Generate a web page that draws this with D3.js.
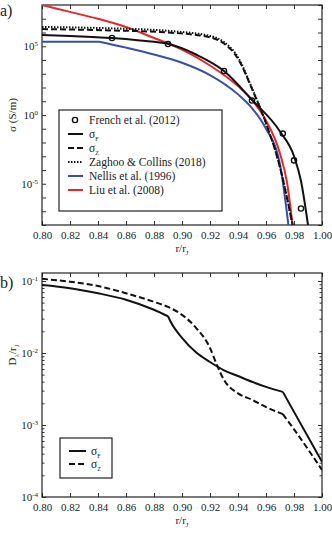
<!DOCTYPE html>
<html lang="en">
<head>
  <meta charset="UTF-8">
  <title>Conductivity and magnetic diffusion length</title>
  <script src="https://d3js.org/d3.v7.min.js"></script>
  <style>
    body { margin: 0; background: #fff; }
    svg text { font-family: "Liberation Serif", "Times New Roman", serif; }
  </style>
</head>
<body>
  <svg width="332" height="536"></svg>

  <script>
    // panel a: log10 of conductivity (S/m) vs r/rJ
    const rFrench = [0.85, 0.89, 0.93, 0.95, 0.972, 0.98, 0.985];
    const sFrench = [5.6, 5.16, 3.2, 1.05, -1.35, -3.3, -6.8];

    const rSigF = [0.80, 0.82, 0.85, 0.87, 0.89, 0.91, 0.93, 0.95, 0.97, 0.98, 0.985, 0.99];
    const sSigF = [5.82, 5.75, 5.6, 5.42, 5.18, 4.4, 3.2, 1.1, -1.2, -3.0, -4.8, -8.0];

    const rSigZ = [0.80, 0.85, 0.89, 0.92, 0.93, 0.94, 0.95, 0.96, 0.97, 0.979];
    const sSigZ = [6.25, 6.15, 6.0, 5.65, 5.2, 4.1, 1.9, -0.6, -3.8, -8.0];

    const rZaghoo = [0.80, 0.85, 0.89, 0.92, 0.93, 0.94, 0.95, 0.96, 0.97, 0.979];
    const sZaghoo = [6.4, 6.3, 6.12, 5.75, 5.3, 4.2, 1.95, -0.6, -3.8, -8.0];

    const rNellis = [0.80, 0.841, 0.86, 0.88, 0.90, 0.92, 0.94, 0.95, 0.96, 0.97, 0.976];
    const sNellis = [5.33, 5.33, 4.9, 4.4, 3.8, 2.9, 1.5, 0.5, -1.0, -3.6, -8.0];

    const rLiu = [0.80, 0.82, 0.84, 0.86, 0.88, 0.89, 0.90, 0.92, 0.94, 0.95, 0.96, 0.97, 0.975, 0.979];
    const sLiu = [8.0, 7.5, 7.0, 6.4, 5.6, 5.2, 4.75, 3.6, 2.1, 1.1, -0.4, -2.8, -4.9, -8.0];

    // panel b: log10 of D/rJ
    const rDF = [0.80, 0.82, 0.84, 0.86, 0.88, 0.89, 0.892, 0.90, 0.91, 0.92, 0.93, 0.94, 0.95, 0.96, 0.972, 1.00];
    const dDF = [-1.056, -1.10, -1.17, -1.26, -1.40, -1.49, -1.57, -1.79, -1.99, -2.125, -2.24, -2.32, -2.40, -2.47, -2.54, -3.51];

    const rDZ = [0.80, 0.82, 0.84, 0.86, 0.88, 0.89, 0.90, 0.91, 0.92, 0.925, 0.93, 0.94, 0.95, 0.96, 0.972, 0.98, 1.00];
    const dDZ = [-0.97, -1.01, -1.07, -1.17, -1.29, -1.36, -1.47, -1.65, -1.93, -2.17, -2.375, -2.56, -2.65, -2.75, -2.85, -3.06, -3.625];

    const xTicks = [0.80, 0.82, 0.84, 0.86, 0.88, 0.90, 0.92, 0.94, 0.96, 0.98, 1.00];

    const FONT = "Liberation Serif";
    const INK = "#222";
    const svg = d3.select("svg");
    const left = 42, right = 322;

    function sciLabel(sel, exp) {
      sel.text("10");
      sel.append("tspan").attr("dy", -4).attr("font-size", 7).text(exp);
    }

    function drawPanel(top, bottom, yDom, minor, labelExps, id) {
      const x = d3.scaleLinear().domain([0.8, 1.0]).range([left, right]);
      const y = d3.scaleLinear().domain(yDom).range([bottom, top]);
      const g = svg.append("g");

      g.append("clipPath").attr("id", id)
        .append("rect").attr("x", left).attr("y", top)
        .attr("width", right - left).attr("height", bottom - top);

      // x ticks bottom + top, pointing inward
      g.append("g").attr("transform", `translate(0,${bottom})`)
        .call(d3.axisBottom(x).tickValues(xTicks).tickFormat(d3.format(".2f")).tickSizeInner(-4).tickSizeOuter(0).tickPadding(6))
        .attr("font-family", FONT).attr("font-size", 11)
        .call(a => a.select(".domain").remove())
        .call(a => a.selectAll(".tick line").attr("stroke", "#333"))
        .call(a => a.selectAll("text").attr("fill", INK));
      g.append("g").attr("transform", `translate(0,${top})`)
        .call(d3.axisTop(x).tickValues(xTicks).tickFormat("").tickSizeInner(-4).tickSizeOuter(0))
        .call(a => a.select(".domain").remove())
        .call(a => a.selectAll(".tick line").attr("stroke", "#333"));

      // y ticks on log decades (values are exponents)
      const major = d3.range(Math.ceil(yDom[0]), Math.floor(yDom[1]) + 1);
      let yt = major.slice();
      if (minor) {
        yt = [];
        major.forEach(m => {
          for (let k = 1; k < 10; k++) {
            const v = m + Math.log10(k);
            if (v >= yDom[0] && v <= yDom[1]) yt.push(v);
          }
        });
      }
      [[left, d3.axisLeft, 1], [right, d3.axisRight, -1]].forEach(([px, ax, dir]) => {
        g.append("g").attr("transform", `translate(${px},0)`)
          .call(ax(y).tickValues(yt).tickFormat("").tickSizeOuter(0))
          .call(a => a.select(".domain").remove())
          .call(a => a.selectAll(".tick line")
            .attr("x2", d => dir * (Math.abs(d - Math.round(d)) < 1e-6 ? 4 : 2.5))
            .attr("stroke", "#333"));
      });

      labelExps.forEach(e => {
        g.append("text").attr("x", left - 4).attr("y", y(e) + 4)
          .attr("text-anchor", "end").attr("font-size", 11).attr("font-family", FONT).attr("fill", INK)
          .call(sciLabel, e);
      });

      g.append("rect").attr("x", left).attr("y", top)
        .attr("width", right - left).attr("height", bottom - top)
        .attr("fill", "none").attr("stroke", INK).attr("stroke-width", 1.2);

      // axis title under the panel
      g.append("text").attr("x", 182).attr("y", bottom + 27).attr("text-anchor", "middle")
        .attr("font-size", 11).attr("font-family", FONT).attr("fill", INK)
        .text("r/r").append("tspan").attr("dy", 3).attr("font-size", 7).text("J");

      return { x, y, g };
    }

    // draws a curve, keeping sharp corners at the given break values of r
    function drawLine(p, rs, vs, color, dash, width, clip, breaks = []) {
      const line = d3.line()
        .x(d => p.x(d[0])).y(d => p.y(d[1]))
        .curve(d3.curveMonotoneX);
      const pts = d3.zip(rs, vs);
      const pieces = [];
      let cur = [];
      pts.forEach(d => {
        cur.push(d);
        if (breaks.includes(d[0])) { pieces.push(cur); cur = [d]; }
      });
      pieces.push(cur);
      const d = pieces.filter(s => s.length > 1).map(s => line(s)).join("");
      p.g.append("path")
        .attr("d", d)
        .attr("fill", "none")
        .attr("stroke", color)
        .attr("stroke-width", width)
        .attr("stroke-linejoin", "round")
        .attr("stroke-dasharray", dash)
        .attr("clip-path", `url(#${clip})`);
    }

    // ---- panel a ----
    const pa = drawPanel(5, 225, [-8, 8], false, [5, 0, -5], "clipA");
    drawLine(pa, rLiu, sLiu, "#e8262b", null, 2, "clipA");
    drawLine(pa, rNellis, sNellis, "#3a4fa8", null, 2, "clipA", [0.841]);
    drawLine(pa, rZaghoo, sZaghoo, "#111", "1.5,1.5", 2, "clipA");
    drawLine(pa, rSigZ, sSigZ, "#111", "6,3", 2, "clipA");
    drawLine(pa, rSigF, sSigF, "#111", null, 2, "clipA");
    pa.g.selectAll(".french").data(d3.zip(rFrench, sFrench)).join("circle")
      .attr("cx", d => pa.x(d[0])).attr("cy", d => pa.y(d[1])).attr("r", 2.6)
      .attr("fill", "none").attr("stroke", "#111").attr("stroke-width", 1.4);

    // legend a
    const la = pa.g.append("g");
    la.append("rect").attr("x", 59).attr("y", 110).attr("width", 163).attr("height", 101)
      .attr("fill", "#fff").attr("stroke", INK).attr("stroke-width", 1.2);
    const legA = [
      { label: "French et al. (2012)", marker: true },
      { label: "σ", sub: "F", color: "#111", dash: null },
      { label: "σ", sub: "Z", color: "#111", dash: "6,3" },
      { label: "Zaghoo & Collins (2018)", color: "#111", dash: "1.5,1.5" },
      { label: "Nellis et al. (1996)", color: "#3a4fa8", dash: null },
      { label: "Liu et al. (2008)", color: "#e8262b", dash: null }
    ];
    legA.forEach((d, i) => {
      const yy = 120 + i * 14;
      if (d.marker) {
        la.append("circle").attr("cx", 75).attr("cy", yy).attr("r", 2.6)
          .attr("fill", "none").attr("stroke", "#111").attr("stroke-width", 1.4);
      } else {
        la.append("line").attr("x1", 68).attr("x2", 83).attr("y1", yy).attr("y2", yy)
          .attr("stroke", d.color).attr("stroke-width", 2).attr("stroke-dasharray", d.dash);
      }
      const t = la.append("text").attr("x", 89).attr("y", yy + 4)
        .attr("font-size", 11.5).attr("font-family", FONT).attr("fill", INK).text(d.label);
      if (d.sub) t.append("tspan").attr("dy", 3).attr("font-size", 6).text(d.sub);
    });

    // ---- panel b ----
    const pb = drawPanel(273, 497, [-4, -0.889], true, [-1, -2, -3, -4], "clipB");
    drawLine(pb, rDZ, dDZ, "#111", "6,3", 2, "clipB", [0.972]);
    drawLine(pb, rDF, dDF, "#111", null, 2, "clipB", [0.89, 0.972]);

    const lb = pb.g.append("g");
    lb.append("rect").attr("x", 60).attr("y", 438).attr("width", 52).attr("height", 40)
      .attr("fill", "#fff").attr("stroke", INK).attr("stroke-width", 1.2);
    [["F", null], ["Z", "6,3"]].forEach(([s, dash], i) => {
      const yy = 451 + i * 13;
      lb.append("line").attr("x1", 69).attr("x2", 86).attr("y1", yy).attr("y2", yy)
        .attr("stroke", "#111").attr("stroke-width", 2).attr("stroke-dasharray", dash);
      lb.append("text").attr("x", 91).attr("y", yy + 4).attr("font-size", 11.5)
        .attr("font-family", FONT).attr("fill", INK)
        .text("σ").append("tspan").attr("dy", 3).attr("font-size", 6).text(s);
    });

    // y titles and panel labels
    svg.append("text").attr("transform", "translate(16,115) rotate(-90)")
      .attr("text-anchor", "middle").attr("font-size", 11).attr("font-family", FONT).attr("fill", INK)
      .text("σ (S/m)");

    const dl = svg.append("text").attr("transform", "translate(16,355) rotate(-90)")
      .attr("text-anchor", "middle").attr("font-size", 11).attr("font-family", FONT).attr("fill", INK);
    dl.append("tspan").text("D");
    dl.append("tspan").attr("dy", 3).attr("font-size", 7).text("λ");
    dl.append("tspan").attr("dy", -3).text("/r");
    dl.append("tspan").attr("dy", 3).attr("font-size", 7).text("J");

    svg.append("text").attr("x", 0).attr("y", 16).attr("font-size", 16).attr("font-family", FONT).attr("fill", INK).text("a)");
    svg.append("text").attr("x", 0).attr("y", 288).attr("font-size", 16).attr("font-family", FONT).attr("fill", INK).text("b)");
  </script>
</body>
</html>
